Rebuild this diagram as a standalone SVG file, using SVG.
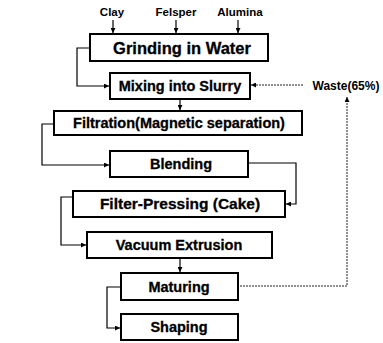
<svg xmlns="http://www.w3.org/2000/svg" width="383" height="343" viewBox="0 0 383 343">
<defs>
<marker id="ah" viewBox="0 0 10 10" refX="10" refY="5" markerWidth="5" markerHeight="5" markerUnits="userSpaceOnUse" orient="auto"><path d="M0,0 L10,5 L0,10 z" fill="#000"/></marker>
<style>
.box{fill:#fff;stroke:#000;stroke-width:2}
.t{font-family:"Liberation Sans",Arial,sans-serif;font-weight:bold;font-size:14.5px;text-anchor:middle;fill:#000;stroke:#000;stroke-width:0.3}
.s{font-family:"Liberation Sans",Arial,sans-serif;font-weight:bold;font-size:11.5px;text-anchor:middle;fill:#000}
.c{fill:none;stroke:#000;stroke-width:1.2}
.d{fill:none;stroke:#222;stroke-width:1;stroke-dasharray:2,1}
</style>
</defs>
<rect width="383" height="343" fill="#fff"/>
<g id="inputs">
<text class="s" x="112" y="16">Clay</text>
<text class="s" x="176" y="16">Felsper</text>
<text class="s" x="240" y="16">Alumina</text>
</g>
<g id="connectors">
<path class="c" d="M113,20 V33" marker-end="url(#ah)"/>
<path class="c" d="M176,20 V33" marker-end="url(#ah)"/>
<path class="c" d="M238,20 V33" marker-end="url(#ah)"/>
<path class="c" d="M90,48 H77 V86 H109" marker-end="url(#ah)"/>
<path class="d" d="M303,85 H251" marker-end="url(#ah)"/>
<path class="d" d="M240,286 H347 V97" marker-end="url(#ah)"/>
<path class="c" d="M180,99 V110" marker-end="url(#ah)"/>
<path class="c" d="M54,124 H42 V165 H109" marker-end="url(#ah)"/>
<path class="c" d="M248,163 H296 V204 H286" marker-end="url(#ah)"/>
<path class="c" d="M73,197 H61 V245 H86" marker-end="url(#ah)"/>
<path class="c" d="M180,258 V272" marker-end="url(#ah)"/>
<path class="c" d="M121,287 H107 V328 H120" marker-end="url(#ah)"/>
</g>
<g id="grinding"><rect class="box" x="90" y="34" width="178" height="27"/><text class="t" x="182" y="54" style="font-size:16.5px">Grinding in Water</text></g>
<g id="mixing"><rect class="box" x="110" y="73" width="140" height="26"/><text class="t" x="180" y="91">Mixing into Slurry</text></g>
<g id="waste"><text class="s" x="346" y="90" style="font-size:12px">Waste(65%)</text></g>
<g id="filtration"><rect class="box" x="54" y="111" width="248" height="24"/><text class="t" x="179" y="128">Filtration(Magnetic separation)</text></g>
<g id="blending"><rect class="box" x="110" y="151" width="138" height="26"/><text class="t" x="181" y="169">Blending</text></g>
<g id="filterpressing"><rect class="box" x="73" y="191" width="212" height="26"/><text class="t" x="180" y="209" style="font-size:15.5px">Filter-Pressing (Cake)</text></g>
<g id="vacuum"><rect class="box" x="87" y="232" width="185" height="26"/><text class="t" x="179" y="250">Vacuum Extrusion</text></g>
<g id="maturing"><rect class="box" x="121" y="273" width="117" height="27"/><text class="t" x="179" y="292">Maturing</text></g>
<g id="shaping"><rect class="box" x="121" y="314" width="117" height="26"/><text class="t" x="179" y="332">Shaping</text></g>
</svg>
